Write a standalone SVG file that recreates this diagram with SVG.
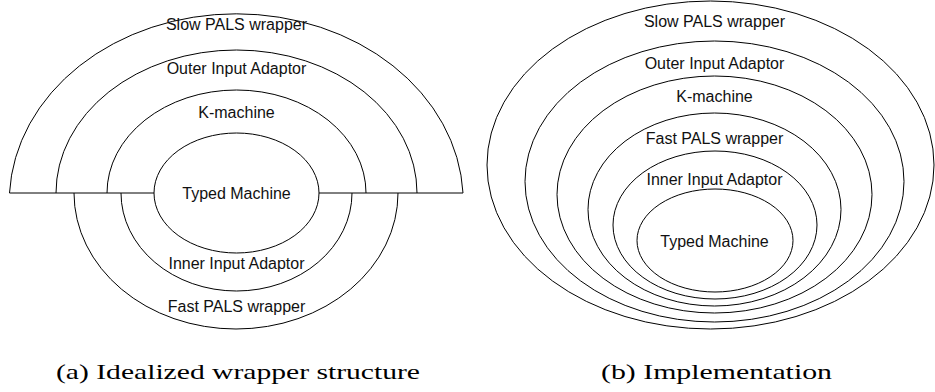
<svg xmlns="http://www.w3.org/2000/svg" width="935" height="392" viewBox="0 0 935 392">
<style>
.s{fill:none;stroke:#000;stroke-width:1}
.t{font-family:"Liberation Sans",Arial,sans-serif;font-size:16px;fill:#111;text-anchor:middle}
.c{font-family:"Liberation Serif","Times New Roman",serif;font-size:22px;fill:#000}
</style>
<rect width="935" height="392" fill="#fff"/>
<g id="left">
  <g id="connectors">
    <path class="s" d="M9.5 193H154M319 193H463"/>
  </g>
  <g id="a-slow"><path class="s" d="M9.5 193A227 188 0 0 1 463 193"/><text class="t" x="236.5" y="30">Slow PALS wrapper</text></g>
  <g id="a-outer"><path class="s" d="M56 193A180.5 143 0 0 1 417 193"/><text class="t" x="236.5" y="74">Outer Input Adaptor</text></g>
  <g id="a-kmachine"><path class="s" d="M107 193A129.5 103 0 0 1 366 193"/><text class="t" x="236.5" y="118">K-machine</text></g>
  <g id="a-fast"><path class="s" d="M74 193A162 136 0 0 0 398 193"/><text class="t" x="236.5" y="312">Fast PALS wrapper</text></g>
  <g id="a-inner"><path class="s" d="M121 193A115.5 98 0 0 0 352 193"/><text class="t" x="236.5" y="269">Inner Input Adaptor</text></g>
  <g id="a-typed"><ellipse class="s" cx="236.5" cy="193" rx="82.5" ry="60"/><text class="t" x="236.5" y="199">Typed Machine</text></g>
</g>
<g id="right">
  <g id="b-slow"><ellipse class="s" cx="710.5" cy="165" rx="223.5" ry="164"/><text class="t" x="714.5" y="27">Slow PALS wrapper</text></g>
  <g id="b-outer"><ellipse class="s" cx="714.5" cy="181.5" rx="189.5" ry="140.5"/><text class="t" x="714.5" y="69">Outer Input Adaptor</text></g>
  <g id="b-kmachine"><ellipse class="s" cx="714.5" cy="194.5" rx="157.5" ry="118.5"/><text class="t" x="714.5" y="102">K-machine</text></g>
  <g id="b-fast"><ellipse class="s" cx="714.5" cy="209.5" rx="126.5" ry="96.5"/><text class="t" x="714.5" y="144">Fast PALS wrapper</text></g>
  <g id="b-inner"><ellipse class="s" cx="715" cy="225" rx="102" ry="74"/><text class="t" x="714.5" y="185">Inner Input Adaptor</text></g>
  <g id="b-typed"><ellipse class="s" cx="715" cy="240.5" rx="78" ry="51.5"/><text class="t" x="714.5" y="247">Typed Machine</text></g>
</g>
<g id="captions">
  <text class="c" x="56" y="379" textLength="364" lengthAdjust="spacingAndGlyphs">(a) Idealized wrapper structure</text>
  <text class="c" x="601" y="379" textLength="231" lengthAdjust="spacingAndGlyphs">(b) Implementation</text>
</g>
</svg>
